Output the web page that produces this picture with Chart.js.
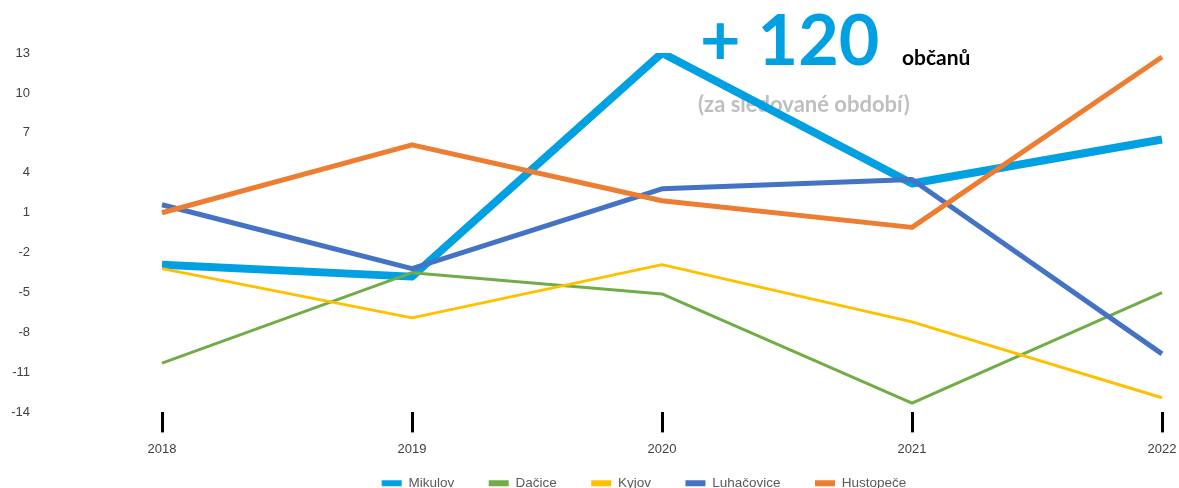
<!DOCTYPE html>
<html lang="cs">
<head>
<meta charset="utf-8">
<title>Vývoj počtu obyvatel</title>
<script src="https://cdn.jsdelivr.net/npm/chart.js@4.4.1/dist/chart.umd.min.js"></script>
<style>
  html, body { margin: 0; padding: 0; background: #fff; overflow: hidden; }
  canvas { display: block; }
</style>
</head>
<body>
<canvas id="myChart" width="1179" height="524"></canvas>
<script>
// data
const years = ['2018', '2019', '2020', '2021', '2022'];
const mikulov = [-2.9, -3.8, 13, 3.2, 6.5];
const dacice = [-10.3, -3.5, -5.1, -13.3, -5.0];
const kyjov = [-3.2, -6.9, -2.9, -7.2, -12.9];
const luhacovice = [1.6, -3.2, 2.8, 3.5, -9.6];
const hustopece = [1.0, 6.1, 1.9, -0.1, 12.7];
const yTicks = [-14, -11, -8, -5, -2, 1, 4, 7, 10, 13];

const headline = '+ 120';
const headlineUnit = 'občanů';
const subline = '(za sledované období)';

const blue = '#00A0E3';

// big text sits behind the lines
const annotation = {
  id: 'annotation',
  beforeDatasetsDraw(chart) {
    const c = chart.ctx;
    c.save();
    c.textBaseline = 'alphabetic';
    c.textAlign = 'left';
    c.fillStyle = blue;
    c.font = 'bold 70px Lato';
    c.fillText(headline, 700, 65);
    c.fillStyle = '#000';
    c.font = 'bold 21px Lato';
    c.fillText(headlineUnit, 902, 65);
    c.fillStyle = '#BFBFBF';
    c.font = 'bold 22px Lato';
    c.fillText(subline, 698, 112);
    c.restore();
  }
};

// legend padding is wide for the item spacing, so pull the legend up a bit
// and move it right (it sits under the plot, not under the page centre)
const legendShift = {
  id: 'legendShift',
  afterLayout(chart) {
    chart.legend.top -= 24;
    chart.legend.bottom -= 24;
    chart.legend.left += 63;
    chart.legend.right += 63;
  }
};

const ctx = document.getElementById('myChart');
new Chart(ctx, {
  type: 'line',
  data: {
    labels: years,
    datasets: [
      { label: 'Mikulov', data: mikulov, borderColor: blue, backgroundColor: blue, borderWidth: 8, order: 5 },
      { label: 'Dačice', data: dacice, borderColor: '#70AD47', backgroundColor: '#70AD47', borderWidth: 3, order: 4 },
      { label: 'Kyjov', data: kyjov, borderColor: '#FFC000', backgroundColor: '#FFC000', borderWidth: 3, order: 3 },
      { label: 'Luhačovice', data: luhacovice, borderColor: '#4472C4', backgroundColor: '#4472C4', borderWidth: 5, order: 2 },
      { label: 'Hustopeče', data: hustopece, borderColor: '#ED7D31', backgroundColor: '#ED7D31', borderWidth: 5, order: 1 }
    ]
  },
  options: {
    responsive: false,
    animation: false,
    layout: { padding: { top: 53, right: 17, left: 0, bottom: 0 } },
    elements: {
      point: { radius: 0, hoverRadius: 0 },
      line: { tension: 0, borderJoinStyle: 'round', fill: false }
    },
    plugins: {
      tooltip: { enabled: false },
      legend: {
        position: 'bottom',
        labels: {
          boxWidth: 20,
          boxHeight: 6,
          padding: 34.5,
          color: '#595959',
          font: { family: 'Liberation Sans', size: 13.5 },
          sort: (a, b) => a.datasetIndex - b.datasetIndex,
          generateLabels(chart) {
            const items = Chart.defaults.plugins.legend.labels.generateLabels(chart);
            items.forEach(it => { it.lineWidth = 0; it.strokeStyle = 'transparent'; });
            return items;
          }
        }
      }
    },
    scales: {
      x: {
        offset: false,
        // short black tick marks under the plot, no gridlines
        grid: { display: true, drawOnChartArea: false, drawTicks: true, tickLength: 20, color: '#000', lineWidth: 3 },
        border: { display: false },
        ticks: { color: '#404040', padding: 9, font: { family: 'Liberation Sans', size: 13 }, maxRotation: 0 },
        afterFit(scale) {
          scale.paddingLeft = 0;
          scale.paddingRight = 0;
        }
      },
      y: {
        min: -14,
        max: 13,
        afterFit(scale) {
          scale.width = 162;
          scale.paddingTop = 8;
          scale.paddingBottom = 8;
        },
        afterBuildTicks(scale) { scale.ticks = yTicks.map(v => ({ value: v })); },
        grid: { display: false, drawTicks: false },
        border: { display: false },
        ticks: { color: '#404040', padding: 132, font: { family: 'Liberation Sans', size: 13 } }
      }
    }
  },
  plugins: [annotation, legendShift]
});
</script>
</body>
</html>
